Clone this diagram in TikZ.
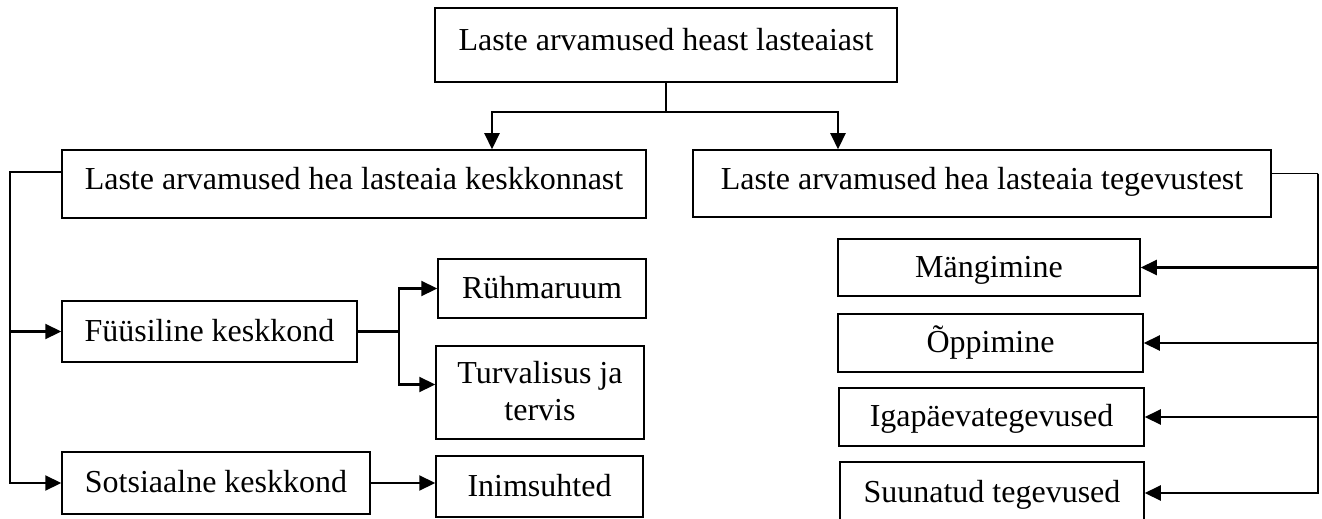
\documentclass[tikz,border=0pt]{standalone}
\usepackage{fontspec}
\setmainfont{Liberation Serif}
\usetikzlibrary{arrows.meta}

\begin{document}
\begin{tikzpicture}[x=0.5pt, y=-0.5pt,
  every node/.style={font=\fontsize{16}{18.5}\selectfont},
  box/.style={draw, line width=0.75pt, inner sep=0pt, align=center, text height=11.2pt, text depth=1.6pt},
  raised/.style={text depth=5.3pt},
  twoline/.style={text height=29.7pt},
  link/.style={line width=0.7pt},
  arr/.style={line width=1.1pt, -{Triangle[length=8pt,width=7.5pt]}}]
  \useasboundingbox (0,0) rectangle (1322,519);
  % top level
  \node[box, raised, minimum width=231pt, minimum height=37pt] (top) at (666,45) {Laste arvamused heast lasteaiast};
  \node[box, raised, minimum width=292pt, minimum height=34pt] (env) at (354,184) {Laste arvamused hea lasteaia keskkonnast};
  \node[box, raised, minimum width=289pt, minimum height=33.5pt] (act) at (982,183.5) {Laste arvamused hea lasteaia tegevustest};
  % environment branch
  \node[box, minimum width=147.5pt, minimum height=30.5pt] (phys) at (209.5,331.5) {Füüsiline keskkond};
  \node[box, minimum width=154pt, minimum height=31pt] (soc) at (216,483) {Sotsiaalne keskkond};
  \node[box, minimum width=104pt, minimum height=29.5pt] (room) at (542,288.5) {Rühmaruum};
  \node[box, twoline, minimum width=104pt, minimum height=46.5pt] (safe) at (540,392.5) {Turvalisus ja\\tervis};
  \node[box, minimum width=103.5pt, minimum height=30.5pt] (rel) at (539.5,486.5) {Inimsuhted};
  % activities branch
  \node[box, minimum width=151pt, minimum height=28.5pt] (play) at (989,267.5) {Mängimine};
  \node[box, minimum width=152.5pt, minimum height=29pt] (learn) at (990.5,343) {Õppimine};
  \node[box, minimum width=152.5pt, minimum height=29pt] (daily) at (991.5,417) {Igapäevategevused};
  \node[box, minimum width=152pt, minimum height=31pt] (guided) at (992,493) {Suunatud tegevused};

  % connectors
  \coordinate (jt) at (666,112);
  \draw[link] (top) -- (jt);
  \draw[arr] (jt) -| ([xshift=69pt]env.north);
  \draw[arr] (jt) -| ([xshift=-72pt]act.north);

  \coordinate (lb) at (10,172);
  \draw[arr] ([yshift=6pt]env.west) -- (lb) |- (soc);
  \draw[arr] (lb) |- (phys);

  \coordinate (fb) at ([xshift=20.5pt]phys.east);
  \draw[arr] (phys) -- (fb) |- (room);
  \draw[arr] (fb) |- ([yshift=4pt]safe.west);
  \draw[arr] (soc.east) -- (soc.east -| rel.west);

  \coordinate (rb) at (1318,173.5);
  \draw[link] ([yshift=5pt]act.east) -- (rb);
  \draw[arr] (rb) |- (guided);
  \draw[arr] (rb) |- (play);
  \draw[arr] (rb) |- (learn);
  \draw[arr] (rb) |- (daily);
\end{tikzpicture}
\end{document}
